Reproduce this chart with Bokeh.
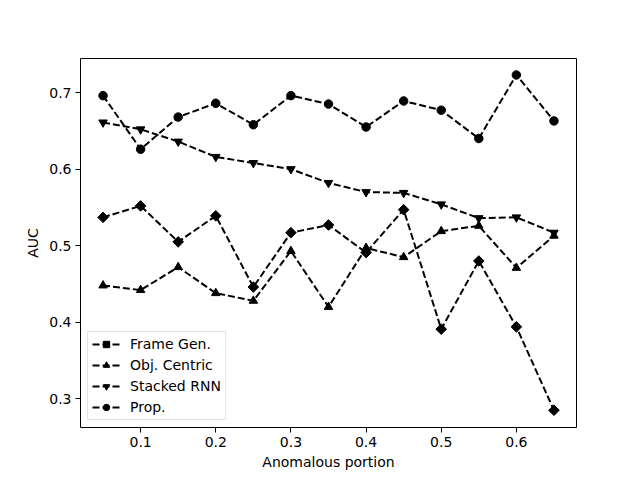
import numpy as np
from bokeh.plotting import figure
from bokeh.models import Range1d, FixedTicker, PrintfTickFormatter
from bokeh.embed import file_html
from bokeh.resources import INLINE

portion = [0.05, 0.10, 0.15, 0.20, 0.25, 0.30, 0.35, 0.40, 0.45, 0.50, 0.55, 0.60, 0.65]
frame_gen = [0.537, 0.552, 0.505, 0.539, 0.446, 0.517, 0.527, 0.491, 0.547, 0.391, 0.480, 0.394, 0.285]
obj_centric = [0.448, 0.442, 0.472, 0.438, 0.428, 0.493, 0.420, 0.497, 0.485, 0.519, 0.526, 0.471, 0.513]
stacked_rnn = [0.661, 0.652, 0.636, 0.616, 0.608, 0.600, 0.582, 0.570, 0.569, 0.554, 0.536, 0.537, 0.517]
prop = [0.696, 0.626, 0.668, 0.686, 0.658, 0.696, 0.685, 0.655, 0.689, 0.677, 0.640, 0.723, 0.663]

x_ticks = [0.1, 0.2, 0.3, 0.4, 0.5, 0.6]
y_ticks = [0.3, 0.4, 0.5, 0.6, 0.7]

FONT = "DejaVu Sans"
FS = "14px"

p = figure(width=640, height=480, output_backend="svg", toolbar_location=None,
           x_range=Range1d(0.02, 0.68), y_range=Range1d(0.2625, 0.7445),
           min_border_left=80, min_border_right=64, min_border_top=58, min_border_bottom=53)
p.background_fill_color = "white"
p.border_fill_color = "white"
p.outline_line_color = "black"
p.outline_line_width = 1
p.outline_line_alpha = 1
p.xgrid.visible = False
p.ygrid.visible = False

for ax, ticks in ((p.xaxis, x_ticks), (p.yaxis, y_ticks)):
    ax.ticker = FixedTicker(ticks=ticks)
    ax.formatter = PrintfTickFormatter(format="%.1f")
    ax.axis_line_color = None
    ax.major_tick_line_color = "black"
    ax.major_tick_out = 5
    ax.major_tick_in = 0
    ax.minor_tick_line_color = None
    ax.major_label_text_font = FONT
    ax.major_label_text_font_size = FS
    ax.major_label_text_color = "black"
    ax.axis_label_text_font = FONT
    ax.axis_label_text_font_size = FS
    ax.axis_label_text_font_style = "normal"
    ax.axis_label_text_color = "black"

p.xaxis.axis_label = "Anomalous portion"
p.yaxis.axis_label = "AUC"
p.xaxis.major_label_standoff = 4
p.yaxis.major_label_standoff = 4
p.xaxis.axis_label_standoff = 4
p.yaxis.axis_label_standoff = 5

series = [
    ("Frame Gen.", frame_gen, "square", 7.5, np.pi / 4),
    ("Obj. Centric", obj_centric, "triangle", 8.5, 0.0),
    ("Stacked RNN", stacked_rnn, "inverted_triangle", 8.5, 0.0),
    ("Prop.", prop, "circle", 8.5, 0.0),
]

for label, ys, marker, size, angle in series:
    p.line(portion, ys, line_color="black", line_width=2, line_dash="7 3", legend_label=label)
    p.scatter(portion, ys, marker=marker, size=size, angle=angle,
              fill_color="black", line_color="black", line_width=1, legend_label=label)

lg = p.legend[0]
lg.location = "bottom_left"
lg.margin = 7
lg.padding = 4
lg.spacing = 5
lg.glyph_width = 28
lg.glyph_height = 16
lg.label_standoff = 10
lg.label_text_font = FONT
lg.label_text_font_size = FS
lg.label_text_color = "black"
lg.border_line_color = "#cccccc"
lg.border_line_width = 1
lg.background_fill_alpha = 0.8

open("out.html", "w").write(file_html(p, INLINE))
